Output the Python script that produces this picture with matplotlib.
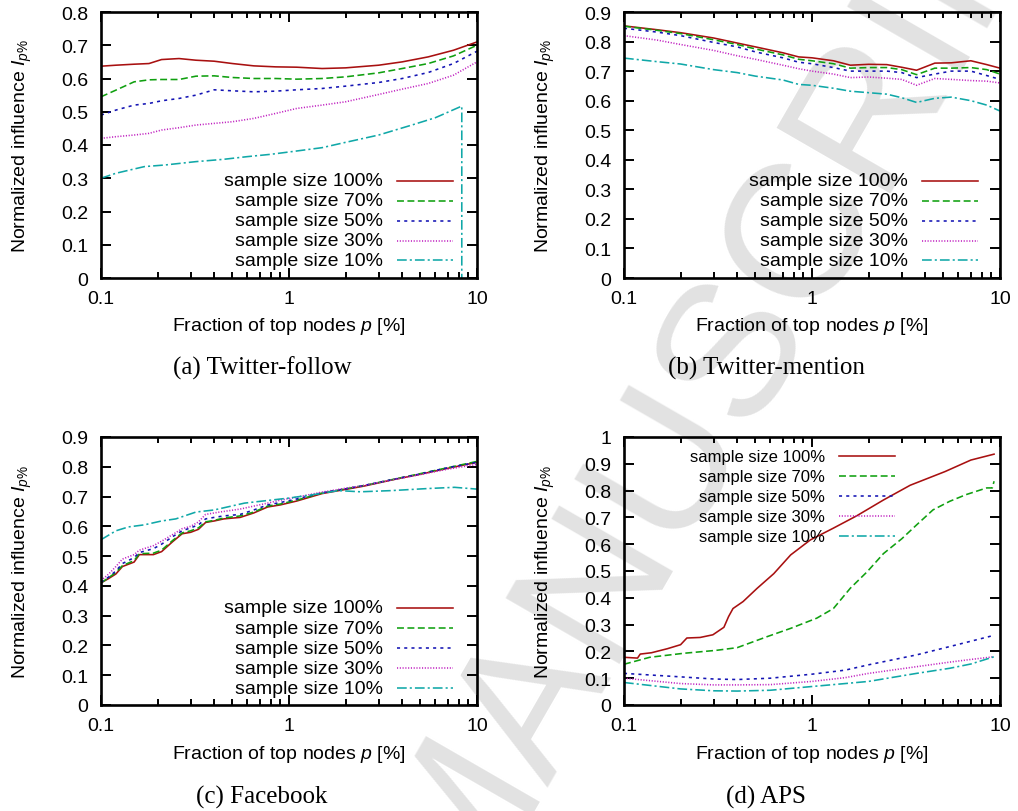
import matplotlib
matplotlib.use("Agg")
import matplotlib.pyplot as plt
from matplotlib.ticker import FixedLocator, FuncFormatter, LogLocator, NullFormatter

plt.rcParams['font.family'] = ['Liberation Sans', 'DejaVu Sans']
plt.rcParams['mathtext.fontset'] = 'custom'
plt.rcParams['mathtext.rm'] = 'Liberation Sans'
plt.rcParams['mathtext.it'] = 'Liberation Sans:italic'
plt.rcParams['lines.scale_dashes'] = False

# ---- data ----
labels = ['sample size 100%', 'sample size 70%', 'sample size 50%',
          'sample size 30%', 'sample size 10%']
captions = ['(a) Twitter-follow', '(b) Twitter-mention', '(c) Facebook', '(d) APS']

# (a) Twitter-follow
xa = [0.1, 0.12, 0.15, 0.18, 0.21, 0.26, 0.32, 0.4, 0.5, 0.65, 0.85, 1.1,
      1.5, 2, 3, 4, 5.5, 7.5, 10]
ya_100 = [0.637, 0.640, 0.643, 0.645, 0.657, 0.660, 0.655, 0.652, 0.645, 0.638,
          0.635, 0.634, 0.630, 0.632, 0.640, 0.650, 0.665, 0.685, 0.710]
ya_70 = [0.545, 0.565, 0.590, 0.596, 0.597, 0.597, 0.607, 0.608, 0.603, 0.600,
         0.600, 0.598, 0.600, 0.605, 0.617, 0.630, 0.645, 0.668, 0.700]
ya_50 = [0.490, 0.505, 0.520, 0.525, 0.533, 0.540, 0.550, 0.566, 0.563, 0.560,
         0.562, 0.566, 0.570, 0.577, 0.588, 0.600, 0.618, 0.645, 0.682]
ya_30 = [0.420, 0.425, 0.430, 0.435, 0.445, 0.452, 0.460, 0.465, 0.470, 0.480,
         0.495, 0.510, 0.520, 0.530, 0.552, 0.568, 0.585, 0.610, 0.650]
xa_10 = [0.1, 0.12, 0.17, 0.22, 0.32, 0.45, 0.6, 0.8, 1.1, 1.5, 2, 3, 4.5, 6,
         8.3, 8.3]
ya_10 = [0.300, 0.315, 0.335, 0.340, 0.350, 0.357, 0.365, 0.372, 0.382, 0.392,
         0.408, 0.430, 0.460, 0.482, 0.517, 0.0]

# (b) Twitter-mention
xb = [0.1, 0.15, 0.2, 0.3, 0.4, 0.5, 0.7, 0.85, 1, 1.3, 1.6, 2, 2.5, 3, 3.6,
      4.5, 5.5, 7, 8.5, 10]
yb_100 = [0.853, 0.840, 0.830, 0.812, 0.795, 0.782, 0.762, 0.748, 0.745, 0.735,
          0.720, 0.723, 0.722, 0.713, 0.703, 0.727, 0.728, 0.735, 0.722, 0.710]
yb_70 = [0.852, 0.838, 0.827, 0.806, 0.790, 0.775, 0.755, 0.740, 0.735, 0.725,
         0.710, 0.712, 0.712, 0.705, 0.688, 0.710, 0.710, 0.712, 0.705, 0.690]
yb_50 = [0.845, 0.832, 0.820, 0.797, 0.782, 0.765, 0.745, 0.730, 0.725, 0.712,
         0.700, 0.700, 0.700, 0.695, 0.678, 0.690, 0.700, 0.700, 0.685, 0.672]
yb_30 = [0.820, 0.805, 0.790, 0.770, 0.752, 0.740, 0.720, 0.708, 0.700, 0.690,
         0.678, 0.680, 0.676, 0.672, 0.652, 0.675, 0.672, 0.668, 0.666, 0.660]
yb_10 = [0.744, 0.732, 0.724, 0.705, 0.695, 0.683, 0.670, 0.655, 0.652, 0.642,
         0.632, 0.627, 0.622, 0.610, 0.594, 0.608, 0.612, 0.600, 0.585, 0.565]

# (c) Facebook
xc = [0.1, 0.11, 0.12, 0.13, 0.15, 0.16, 0.19, 0.21, 0.24, 0.27, 0.3, 0.33,
      0.36, 0.4, 0.45, 0.55, 0.65, 0.77, 0.9, 1.1, 1.5, 2, 2.5, 3.6, 5, 7, 10]
yc_100 = [0.410, 0.425, 0.440, 0.465, 0.480, 0.505, 0.505, 0.515, 0.548, 0.575,
          0.580, 0.590, 0.613, 0.618, 0.625, 0.630, 0.645, 0.665, 0.672, 0.685,
          0.710, 0.724, 0.735, 0.757, 0.775, 0.795, 0.815]
yc_70 = [0.410, 0.428, 0.445, 0.468, 0.485, 0.508, 0.510, 0.520, 0.552, 0.578,
         0.585, 0.595, 0.615, 0.620, 0.628, 0.635, 0.648, 0.668, 0.675, 0.688,
         0.712, 0.726, 0.737, 0.758, 0.777, 0.797, 0.818]
yc_50 = [0.412, 0.430, 0.450, 0.475, 0.495, 0.512, 0.525, 0.540, 0.565, 0.585,
         0.595, 0.605, 0.625, 0.630, 0.635, 0.640, 0.655, 0.672, 0.680, 0.692,
         0.713, 0.726, 0.737, 0.758, 0.776, 0.797, 0.815]
yc_30 = [0.418, 0.440, 0.465, 0.490, 0.505, 0.520, 0.535, 0.550, 0.572, 0.592,
         0.600, 0.615, 0.640, 0.645, 0.650, 0.658, 0.668, 0.678, 0.688, 0.698,
         0.715, 0.728, 0.737, 0.757, 0.774, 0.792, 0.808]
xc_10 = [0.1, 0.12, 0.14, 0.17, 0.21, 0.25, 0.32, 0.4, 0.58, 0.8, 1.0, 1.4,
         1.83, 2.4, 3.5, 5.5, 7.6, 10]
yc_10 = [0.555, 0.585, 0.598, 0.605, 0.618, 0.625, 0.648, 0.655, 0.678, 0.688,
         0.695, 0.708, 0.720, 0.716, 0.720, 0.727, 0.731, 0.725]

# (d) APS
xd_100 = [0.1, 0.118, 0.122, 0.14, 0.17, 0.2, 0.216, 0.254, 0.297, 0.34, 0.36,
          0.38, 0.43, 0.51, 0.626, 0.77, 0.98, 1.3, 1.73, 2.4, 3.33, 5.1, 7.0, 9.3]
yd_100 = [0.178, 0.175, 0.190, 0.195, 0.210, 0.225, 0.250, 0.252, 0.262, 0.290,
          0.330, 0.360, 0.386, 0.435, 0.490, 0.560, 0.616, 0.660, 0.706, 0.765,
          0.820, 0.871, 0.914, 0.936]
xd_70 = [0.1, 0.137, 0.208, 0.31, 0.40, 0.577, 0.77, 1.06, 1.3, 1.6, 1.97, 2.4,
         3.0, 3.6, 4.4, 5.4, 6.6, 8.5, 9.1, 9.3]
yd_70 = [0.152, 0.178, 0.193, 0.204, 0.214, 0.255, 0.286, 0.324, 0.360, 0.436,
         0.498, 0.565, 0.620, 0.672, 0.728, 0.760, 0.785, 0.810, 0.810, 0.835]
xd = [0.1, 0.2, 0.3, 0.4, 0.6, 1.0, 1.5, 2.0, 3.6, 5.4, 7.0, 9.3]
yd_50 = [0.118, 0.105, 0.097, 0.095, 0.100, 0.115, 0.130, 0.150, 0.187, 0.218,
         0.238, 0.260]
yd_30 = [0.100, 0.080, 0.075, 0.075, 0.076, 0.088, 0.102, 0.118, 0.143, 0.160,
         0.170, 0.180]
yd_10 = [0.084, 0.060, 0.053, 0.052, 0.055, 0.069, 0.080, 0.088, 0.118, 0.137,
         0.153, 0.180]

# gnuplot-ish line looks
colors = ['#a81010', '#10a010', '#1414b4', '#c020c0', '#10a8a8']
styles = ['-', (0, (5, 2.5)), (0, (2.2, 3)), (0, (0.8, 1.2)), (0, (7, 2.2, 1.5, 2.2))]


def draw_panel(ax, series, ymax, legx, legy, legsize=14):
    for i, (x, y) in enumerate(series):
        ax.plot(x, y, color=colors[i], linestyle=styles[i], lw=1.15)
    ax.set_xscale('log')
    ax.set_xlim(0.1, 10)
    ax.set_ylim(0, ymax)
    ax.xaxis.set_major_locator(FixedLocator([0.1, 1, 10]))
    ax.xaxis.set_major_formatter(FuncFormatter(lambda v, p: f'{v:g}'))
    ax.xaxis.set_minor_locator(LogLocator(base=10, subs=range(2, 10)))
    ax.xaxis.set_minor_formatter(NullFormatter())
    ax.yaxis.set_major_locator(FixedLocator([k / 10 for k in range(int(round(ymax * 10)) + 1)]))
    ax.yaxis.set_major_formatter(FuncFormatter(lambda v, p: f'{v:g}'))
    ax.tick_params(which='both', direction='in', top=True, right=True,
                   labelsize=14, width=1.4, pad=9)
    ax.tick_params(which='major', length=7)
    ax.tick_params(which='minor', length=4)
    for s in ax.spines.values():
        s.set_linewidth(1.9)
    ax.set_facecolor('none')
    ax.set_xlabel(r'Fraction of top nodes $p$ [%]', fontsize=14)
    ax.xaxis.set_label_coords(0.5, -0.18)
    ax.xaxis.label.set_va('center')
    ax.set_ylabel(r'Normalized influence $I_{p\%}$', fontsize=14)
    ax.yaxis.set_label_coords(-0.209, 0.5)
    ax.yaxis.label.set_va('center')
    # key box, gnuplot style: text right-aligned, sample line on the right
    for i, lab in enumerate(labels):
        yy = legy - i * 0.0748
        ax.text(legx, yy, lab, transform=ax.transAxes, ha='right', va='center',
                fontsize=legsize)
        ax.plot([legx + 0.037, legx + 0.186], [yy, yy], transform=ax.transAxes,
                color=colors[i], linestyle=styles[i], lw=1.15, clip_on=False)


fig = plt.figure(figsize=(10.18, 8.12), dpi=100)
fig.patch.set_facecolor('white')

# watermark behind everything
fig.text(0.46, -0.02, 'ACCEPTED MANUSCRIPT', rotation=60, fontsize=138,
         color='#e2e2e2', ha='center', va='center', zorder=-10,
         rotation_mode='anchor')

w, h = 376 / 1018, 268 / 812
ax_a = fig.add_axes([101 / 1018, 1 - 279 / 812, w, 266 / 812])
ax_b = fig.add_axes([624 / 1018, 1 - 279 / 812, w, 266 / 812])
ax_c = fig.add_axes([101 / 1018, 1 - 706 / 812, w, h])
ax_d = fig.add_axes([624 / 1018, 1 - 706 / 812, w, h])

draw_panel(ax_a, [(xa, ya_100), (xa, ya_70), (xa, ya_50), (xa, ya_30), (xa_10, ya_10)],
           0.8, 0.75, 0.365)
draw_panel(ax_b, [(xb, yb_100), (xb, yb_70), (xb, yb_50), (xb, yb_30), (xb, yb_10)],
           0.9, 0.755, 0.365)
draw_panel(ax_c, [(xc, yc_100), (xc, yc_70), (xc, yc_50), (xc, yc_30), (xc_10, yc_10)],
           0.9, 0.75, 0.362)
draw_panel(ax_d, [(xd_100, yd_100), (xd_70, yd_70), (xd, yd_50), (xd, yd_30), (xd, yd_10)],
           1.0, 0.535, 0.928, legsize=12)

for cap, cx, cy in zip(captions, [262, 766, 262, 766], [368, 368, 797, 797]):
    fig.text(cx / 1018, 1 - cy / 812, cap, ha='center', va='center',
             fontsize=18, family=['Liberation Serif', 'DejaVu Serif'])

fig.savefig('out.png', dpi=100)
